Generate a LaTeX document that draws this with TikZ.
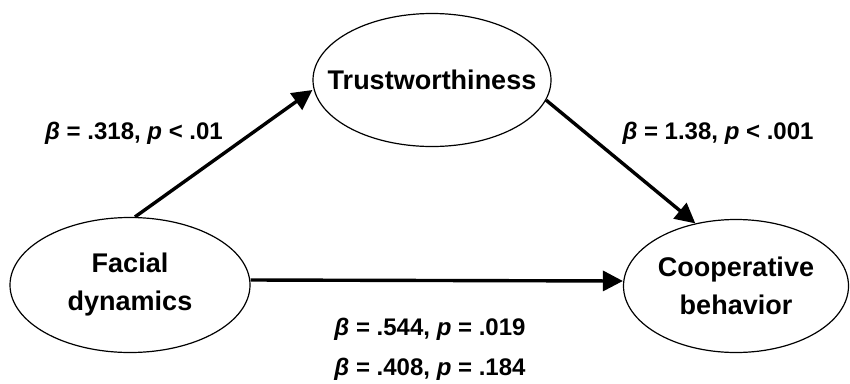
\documentclass[tikz,border=0pt]{standalone}
\usepackage{fontspec}
\setmainfont{Liberation Sans}
\usepackage{tikz}
\usetikzlibrary{arrows.meta, shapes.geometric}

\begin{document}
\begin{tikzpicture}[
  x=1pt, y=-1pt,
  var/.style={draw, ellipse, line width=1.2pt, inner xsep=-40pt, inner ysep=0pt,
              align=center, font=\bfseries\fontsize{27}{38}\selectfont},
  arr/.style={-{Triangle[length=20pt, width=20pt]}, line width=3.4pt},
  coef/.style={font=\bfseries\fontsize{24}{28}\selectfont},
]
\useasboundingbox (0,0) rectangle (850,383);

% ---- Variables -------------------------------------------------------------
\node[var, minimum width=240pt, minimum height=135pt] (fac)   at (130,285)
  {Facial\\dynamics};
\node[var, minimum width=238pt, minimum height=133pt] (trust) at (432,80)
  {Trustworthiness};
\node[var, minimum width=225pt, minimum height=133pt] (coop)  at (736,286)
  {Cooperative\\behavior};

% ---- Paths -----------------------------------------------------------------
\draw[arr] ([xshift=5pt]fac.north) -- ([yshift=-10pt]trust.west);
\draw[arr] (trust.-10) -- (coop.123);
\draw[arr] ([yshift=5pt]fac.east) -- ([yshift=5pt]coop.west);

% ---- Coefficients ----------------------------------------------------------
\node[coef] (cfa) at (134,133) {\textit{β} = .318, \textit{p} < .01};
\node[coef] (cfb) at (718,133) {\textit{β} = 1.38, \textit{p} < .001};
\node[coef] (cfc) at (430,329) {\textit{β} = .544, \textit{p} = .019};
\node[coef] (cfd) at (430,369) {\textit{β} = .408, \textit{p} = .184};

\end{tikzpicture}
\end{document}
